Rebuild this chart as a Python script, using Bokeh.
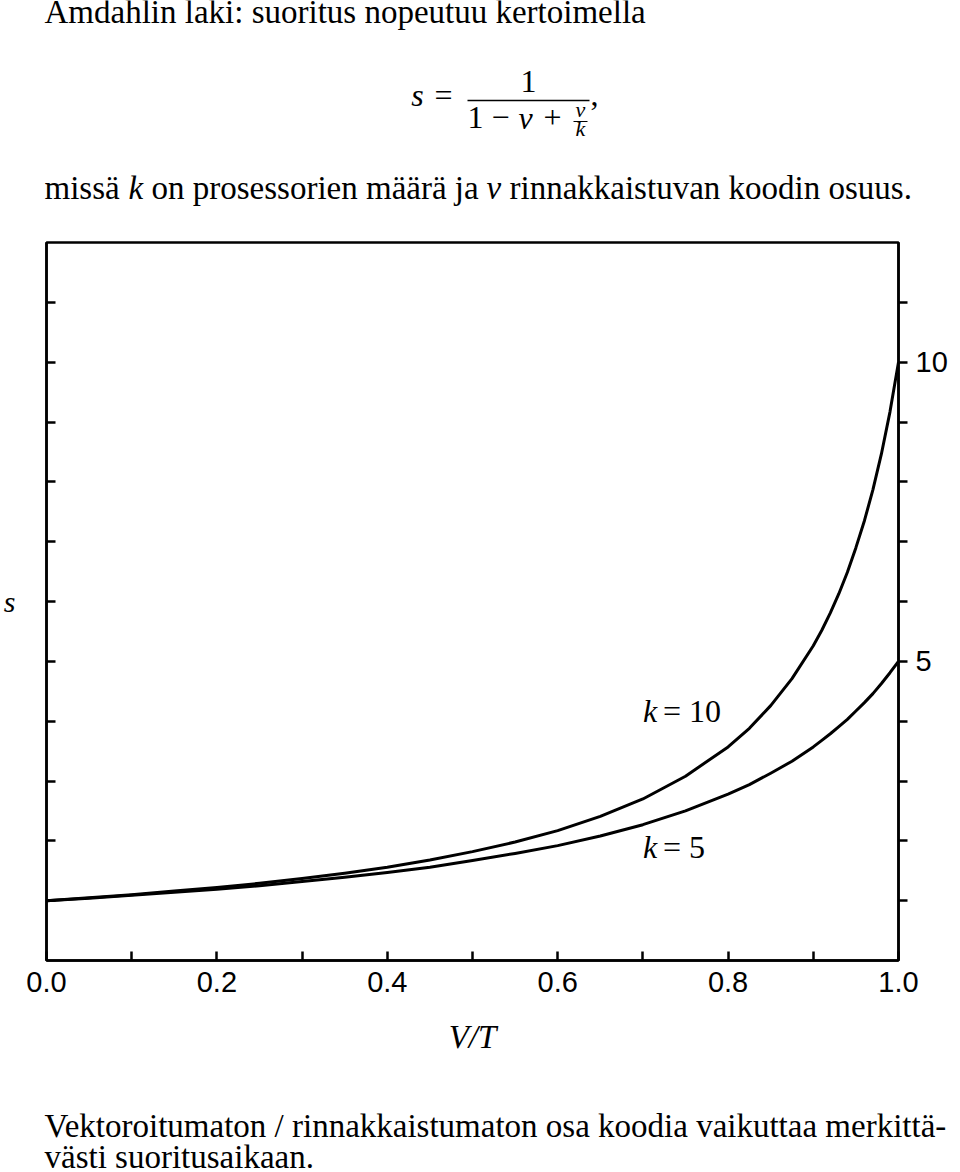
from bokeh.plotting import figure
from bokeh.models import Label, LinearAxis, FixedTicker, NumeralTickFormatter, Range1d
from bokeh.embed import file_html
from bokeh.resources import INLINE

# ---- data ----
v_share = [0.0, 0.05, 0.1, 0.15, 0.2, 0.25, 0.3, 0.35, 0.4, 0.45, 0.5, 0.55, 0.6, 0.65,
           0.7, 0.75, 0.8, 0.825, 0.85, 0.875, 0.9, 0.91, 0.92, 0.93, 0.94, 0.95, 0.96,
           0.97, 0.98, 0.99, 1.0]
s_k10 = [1.00, 1.05, 1.10, 1.16, 1.22, 1.29, 1.37, 1.46, 1.56, 1.68, 1.82, 1.98, 2.17, 2.41,
         2.70, 3.08, 3.57, 3.88, 4.26, 4.71, 5.26, 5.52, 5.81, 6.13, 6.49, 6.90, 7.35,
         7.87, 8.47, 9.17, 10.00]
s_k5 = [1.00, 1.04, 1.09, 1.14, 1.19, 1.25, 1.32, 1.39, 1.47, 1.56, 1.67, 1.79, 1.92, 2.08,
        2.27, 2.50, 2.78, 2.94, 3.13, 3.33, 3.57, 3.68, 3.79, 3.91, 4.03, 4.17, 4.31,
        4.46, 4.63, 4.81, 5.00]
x_major_ticks = [0.0, 0.2, 0.4, 0.6, 0.8, 1.0]
x_minor_ticks = [0.1, 0.3, 0.5, 0.7, 0.9]
y_major_ticks = [5, 10]
y_minor_ticks = [1, 2, 3, 4, 6, 7, 8, 9, 11]
y_left_ticks = [1, 2, 3, 4, 5, 6, 7, 8, 9, 10, 11]
curve_labels = ["k", "= 10", "k", "= 5"]

title_text = "Amdahlin laki: suoritus nopeutuu kertoimella"
caption_1 = "Vektoroitumaton / rinnakkaistumaton osa koodia vaikuttaa merkittä-"
caption_2 = "västi suoritusaikaan."

SERIF = "Liberation Serif"
SANS = "Liberation Sans"
W = 960
HEAD_H = 232
CHART_TOP = 232
CHART_H = 860
FOOT_TOP = CHART_TOP + CHART_H
FOOT_H = 80
MID = 0.36  # label anchor sits this many font-sizes above the baseline


def text_fig(h):
    f = figure(width=W, height=h, x_range=Range1d(0, W), y_range=Range1d(h, 0),
               output_backend="svg", toolbar_location=None,
               x_axis_location=None, y_axis_location=None,
               min_border_left=0, min_border_right=0, min_border_top=0, min_border_bottom=0,
               background_fill_color="white", border_fill_color="white")
    f.grid.visible = False
    f.outline_line_color = None
    return f


def lab(f, x, base, text, size, style="normal", align="left", font=SERIF):
    f.add_layout(Label(x=x, y=base - MID * size, text=text, text_font=font,
                       text_font_size="%dpx" % size, text_font_style=style,
                       text_align=align, text_baseline="middle", text_color="black"))


# ---------------- head: title, formula, explanation ----------------
head = text_fig(HEAD_H)
lab(head, 44, 23, title_text, 33)

lab(head, 417, 106, "s", 32, style="italic", align="center")
lab(head, 443, 106, "=", 32, align="center")
head.segment(x0=[467], y0=[100], x1=[589], y1=[100], line_width=1.6, line_color="black")
lab(head, 528, 93, "1", 32, align="center")
lab(head, 475, 129, "1", 32, align="center")
lab(head, 500, 129, "\u2212", 32, align="center")
lab(head, 525, 129, "v", 32, style="italic", align="center")
lab(head, 552, 129, "+", 32, align="center")
lab(head, 580, 117, "v", 22, style="italic", align="center")
head.segment(x0=[573], y0=[121], x1=[587], y1=[121], line_width=1.2, line_color="black")
lab(head, 580, 136, "k", 22, style="italic", align="center")
lab(head, 594, 106, ",", 32, align="center")

lab(head, 44, 199, "missä", 33)
lab(head, 128, 199, "k", 33, style="italic")
lab(head, 151, 199, "on prosessorien määrä ja", 33)
lab(head, 486, 199, "v", 33, style="italic")
lab(head, 509, 199, "rinnakkaistuvan koodin osuus.", 33)

# ---------------- chart ----------------
p = figure(width=W, height=CHART_H, x_range=(0, 1), y_range=(0, 12),
           output_backend="svg", toolbar_location=None,
           min_border_left=44, min_border_right=62,
           min_border_top=242 - CHART_TOP, min_border_bottom=CHART_TOP + CHART_H - 960,
           background_fill_color="white", border_fill_color="white")
p.grid.visible = False
p.outline_line_color = "black"
p.outline_line_width = 2.5

xa = p.xaxis[0]
xa.ticker = FixedTicker(ticks=x_major_ticks, minor_ticks=x_minor_ticks)
xa.formatter = NumeralTickFormatter(format="0.0")
xa.axis_line_width = 2.5
xa.major_tick_line_width = 2.5
xa.minor_tick_line_width = 2.5
xa.major_tick_in = 9
xa.major_tick_out = 0
xa.minor_tick_in = 9
xa.minor_tick_out = 0
xa.major_label_standoff = 11
xa.major_label_text_font = SANS
xa.major_label_text_font_size = "29px"
xa.major_label_text_color = "black"
xa.axis_label = "V/T"
xa.axis_label_text_font = SERIF
xa.axis_label_text_font_style = "italic"
xa.axis_label_text_font_size = "33px"
xa.axis_label_text_color = "black"
xa.axis_label_standoff = 24

ya = p.yaxis[0]
ya.ticker = FixedTicker(ticks=[], minor_ticks=y_left_ticks)
ya.axis_line_width = 2.5
ya.minor_tick_line_width = 2.5
ya.minor_tick_in = 9
ya.minor_tick_out = 0
ya.major_tick_in = 0
ya.major_tick_out = 0
ya.axis_label = "s"
ya.axis_label_orientation = "horizontal"
ya.axis_label_text_font = SERIF
ya.axis_label_text_font_style = "italic"
ya.axis_label_text_font_size = "30px"
ya.axis_label_text_color = "black"
ya.axis_label_standoff = 31

ra = LinearAxis(ticker=FixedTicker(ticks=y_major_ticks, minor_ticks=y_minor_ticks))
ra.axis_line_width = 2.5
ra.major_tick_line_width = 2.5
ra.minor_tick_line_width = 2.5
ra.major_tick_in = 0
ra.major_tick_out = 9
ra.minor_tick_in = 0
ra.minor_tick_out = 9
ra.major_label_standoff = 8
ra.major_label_text_font = SANS
ra.major_label_text_font_size = "29px"
ra.major_label_text_color = "black"
p.add_layout(ra, "right")

p.line(v_share, s_k10, line_width=3, line_color="black", line_join="round")
p.line(v_share, s_k5, line_width=3, line_color="black", line_join="round")


def X(px):
    return (px - 44) / 854.0


def Y(py):
    return (960 - py) / (718.0 / 12.0)


for (px, py, t, st) in [(642, 722, curve_labels[0], "italic"), (662, 722, curve_labels[1], "normal"),
                        (642, 858, curve_labels[2], "italic"), (662, 858, curve_labels[3], "normal")]:
    p.add_layout(Label(x=X(px), y=Y(py - MID * 32), text=t, text_font=SERIF, text_font_size="32px",
                       text_font_style=st, text_align="left", text_baseline="middle",
                       text_color="black"))

# ---------------- foot: caption ----------------
foot = text_fig(FOOT_H)
lab(foot, 44, 1137 - FOOT_TOP, caption_1, 33)
lab(foot, 44, 1168 - FOOT_TOP, caption_2, 33)

open("out.html", "w").write(file_html([head, p, foot], INLINE))
